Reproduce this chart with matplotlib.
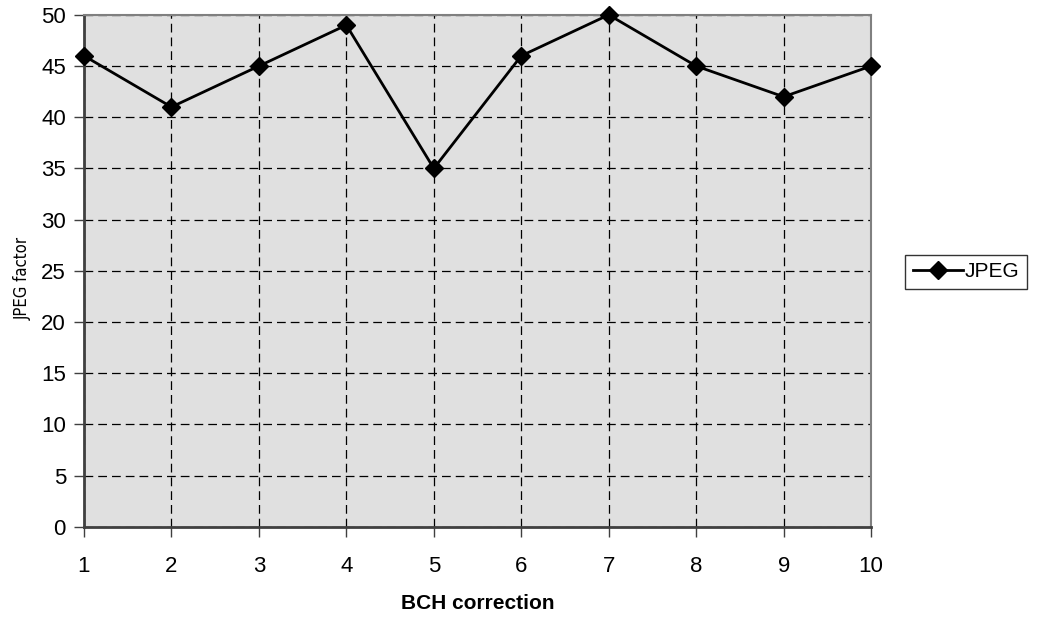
import matplotlib
matplotlib.use("Agg")
import matplotlib.pyplot as plt
from matplotlib.ticker import MultipleLocator

# data
bch = [1, 2, 3, 4, 5, 6, 7, 8, 9, 10]
jpeg = [46, 41, 45, 49, 35, 46, 50, 45, 42, 45]

plt.rcParams["font.family"] = ["Liberation Sans", "DejaVu Sans"]

fig = plt.figure(figsize=(10.37, 6.19), dpi=100)
ax = fig.add_axes([0.081, 0.149, 0.759, 0.827])
ax.set_facecolor("#e0e0e0")

ax.plot(bch, jpeg, color="black", lw=2, marker="D", ms=9, mfc="black",
        mec="black", label="JPEG", zorder=3, clip_on=False)

ax.set_xlim(1, 10)
ax.set_ylim(0, 50)
ax.set_xticks(bch)
ax.yaxis.set_major_locator(MultipleLocator(5))
ax.grid(True, color="black", ls=(0, (7, 4)), lw=0.9)
ax.set_axisbelow(True)

for s in ("top", "right"):
    ax.spines[s].set_color("#808080")
    ax.spines[s].set_linewidth(1.5)
for s in ("left", "bottom"):
    ax.spines[s].set_color("#404040")
    ax.spines[s].set_linewidth(2)

ax.tick_params(direction="out", length=7, width=1, labelsize=16,
               color="#404040")
ax.tick_params(axis="x", pad=14)
ax.tick_params(axis="y", pad=6)

ax.set_xlabel("BCH correction", fontsize=15, fontweight="bold", labelpad=12)
ax.set_ylabel("JPEG factor", fontsize=12, family="DejaVu Sans",
              fontstretch="condensed")
ax.yaxis.set_label_coords(-0.067, 0.486)

leg = fig.legend(loc="center left", bbox_to_anchor=(0.873, 0.561), fontsize=15,
                 frameon=True, fancybox=False, handlelength=2.4,
                 borderpad=0.35, handletextpad=0.1, borderaxespad=0)
leg.get_frame().set_edgecolor("black")
leg.get_frame().set_linewidth(1)

fig.savefig("out.png", dpi=100)
